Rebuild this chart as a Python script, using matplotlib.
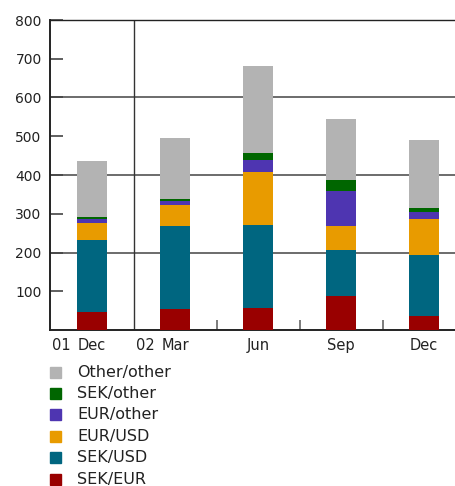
import matplotlib.pyplot as plt
from matplotlib.patches import Rectangle

months = ['Dec', 'Mar', 'Jun', 'Sep', 'Dec']
years = ['01', '02']

sek_eur = [46, 54, 58, 89, 37]
sek_usd = [186, 214, 214, 117, 157]
eur_usd = [44, 55, 136, 63, 92]
eur_other = [10, 10, 32, 90, 19]
sek_other = [6, 5, 17, 28, 11]
other_other = [144, 157, 224, 158, 174]

series = [
    ('SEK/EUR', sek_eur, '#990000'),
    ('SEK/USD', sek_usd, '#006680'),
    ('EUR/USD', eur_usd, '#e89b00'),
    ('EUR/other', eur_other, '#4e35b1'),
    ('SEK/other', sek_other, '#006600'),
    ('Other/other', other_other, '#b3b3b3'),
]

plt.rcParams['font.family'] = 'DejaVu Sans'
fig = plt.figure(figsize=(4.55, 4.86), dpi=100)
ax = fig.add_axes([50 / 455, 1 - 330 / 486, 405 / 455, 310 / 486])

x = list(range(len(months)))
bottom = [0] * len(months)
for name, vals, col in series:
    ax.bar(x, vals, width=0.36, bottom=bottom, color=col, zorder=3)
    bottom = [b + v for b, v in zip(bottom, vals)]

ax.set_xlim(-0.506, 4.373)
ax.set_ylim(0, 800)

# gridlines only every 200, short ticks in between
for yv in [200, 400, 600]:
    ax.axhline(yv, color='#444444', lw=1.1, zorder=1)
ax.axvline(0.5, color='#333333', lw=1.0, zorder=1)
ax.set_yticks([100, 200, 300, 400, 500, 600, 700, 800])
ax.tick_params(axis='y', direction='in', length=9, width=1.2, color='#444444',
               labelsize=10, pad=6, labelcolor='#222222')
ax.set_xticks([1.5, 2.5, 3.5])
ax.set_xticklabels([])
ax.tick_params(axis='x', direction='in', length=7, width=1.2, color='#666666')

for s in ['left', 'bottom', 'top']:
    ax.spines[s].set_color('#222222')
ax.spines['left'].set_linewidth(1.4)
ax.spines['bottom'].set_linewidth(1.4)
ax.spines['top'].set_linewidth(1.0)
ax.spines['right'].set_visible(False)

trans = ax.get_xaxis_transform()
for xi, m in zip(x, months):
    ax.text(xi, -0.025, m, transform=trans, ha='center', va='top',
            fontsize=10.5, color='#222222')
for xp, yr in zip([-0.48, 0.53], years):
    ax.text(xp, -0.025, yr, transform=trans, ha='left', va='top',
            fontsize=10.5, color='#222222')

# legend drawn by hand below the chart
for i, (name, vals, col) in enumerate(reversed(series)):
    yc = 1 - (372 + i * 21.4) / 486
    fig.add_artist(Rectangle((50 / 455, yc - 5.5 / 486), 11 / 455, 11 / 486,
                             transform=fig.transFigure, color=col))
    fig.text(77 / 455, yc, name, ha='left', va='center', fontsize=11.5,
             color='#222222')

fig.savefig('out.png', dpi=100)
